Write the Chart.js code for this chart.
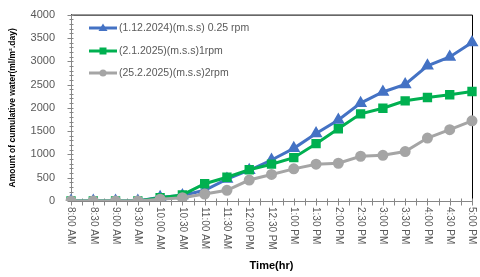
<!DOCTYPE html>
<html>
<head>
<meta charset="utf-8">
<script src="https://cdn.jsdelivr.net/npm/chart.js@4.4.1/dist/chart.umd.min.js"></script>
<style>
  html, body { margin: 0; padding: 0; background: #fff; }
  #wrap { width: 480px; height: 277px; }
</style>
</head>
<body>
<div id="wrap"><canvas id="chart" width="480" height="277"></canvas></div>
<script>
// データ
const timeLabels = ['8:00 AM', '8:30 AM', '9:00 AM', '9:30 AM', '10:00 AM', '10:30 AM', '11:00 AM', '11:30 AM',
  '12:00 PM', '12:30 PM', '1:00 PM', '1:30 PM', '2:00 PM', '2:30 PM', '3:00 PM', '3:30 PM', '4:00 PM', '4:30 PM', '5:00 PM'];
const seriesNames = ['(1.12.2024)(m.s.s) 0.25 rpm', '(2.1.2025)(m.s.s)1rpm', '(25.2.2025)(m.s.s)2rpm'];
const blueVals = [0, 0, 0, 0, 80, 120, 230, 470, 660, 880, 1130, 1450, 1740, 2100, 2340, 2500, 2900, 3090, 3400];
const greenVals = [0, 0, 0, 0, 70, 130, 370, 510, 670, 790, 930, 1230, 1550, 1870, 1990, 2150, 2220, 2280, 2350];
const grayVals = [0, 0, 0, 0, 40, 70, 150, 230, 450, 570, 690, 790, 810, 960, 980, 1060, 1350, 1530, 1720];
const yMin = 0, yMax = 4000, yStep = 500;

const axisGray = '#868686';
const textGray = '#595959';

// 枠線と目盛り
const framePlugin = {
  id: 'frame',
  beforeDatasetsDraw(chart) {
    const { ctx, chartArea: a, scales } = chart;
    ctx.save();
    ctx.strokeStyle = '#000';
    ctx.lineWidth = 1;
    ctx.beginPath();
    ctx.moveTo(a.left, a.top + 0.5);
    ctx.lineTo(a.right + 0.5, a.top + 0.5);
    ctx.lineTo(a.right + 0.5, a.bottom);
    ctx.stroke();

    ctx.strokeStyle = axisGray;
    // y 補助目盛り
    const ax = Math.round(a.left) + 0.5;
    for (let v = yMin; v <= yMax; v += 100) {
      const y = Math.round(scales.y.getPixelForValue(v)) + 0.5;
      const len = v % yStep === 0 ? 4 : 2;
      ctx.beginPath();
      ctx.moveTo(ax - len, y);
      ctx.lineTo(ax + 2, y);
      ctx.stroke();
    }
    // x 目盛り
    const by = Math.round(a.bottom) + 0.5;
    for (let i = 0; i < timeLabels.length; i++) {
      const x = Math.round(scales.x.getPixelForValue(i)) + 0.5;
      ctx.beginPath();
      ctx.moveTo(x, by - 3);
      ctx.lineTo(x, by + 4);
      ctx.stroke();
      if (i < timeLabels.length - 1) {
        const xm = Math.round((scales.x.getPixelForValue(i) + scales.x.getPixelForValue(i + 1)) / 2) + 0.5;
        ctx.beginPath();
        ctx.moveTo(xm, by - 3);
        ctx.lineTo(xm, by + 4);
        ctx.stroke();
      }
    }
    ctx.restore();
  },
  afterDraw(chart) {
    const { ctx, chartArea: a, scales } = chart;
    ctx.save();
    // x ラベル（時計回り90度）
    ctx.fillStyle = textGray;
    ctx.font = '10px "Liberation Sans", Arial, sans-serif';
    ctx.textAlign = 'left';
    ctx.textBaseline = 'middle';
    timeLabels.forEach((lab, i) => {
      const x = scales.x.getPixelForValue(i);
      ctx.save();
      ctx.translate(x, a.bottom + 6);
      ctx.rotate(Math.PI / 2);
      ctx.fillText(lab, 0, 0);
      ctx.restore();
    });

    // 凡例
    const ds = chart.data.datasets;
    const legendY = [28, 51, 73];
    ds.forEach((d, i) => {
      const y = legendY[i];
      ctx.strokeStyle = d.borderColor;
      ctx.lineWidth = 3;
      ctx.beginPath();
      ctx.moveTo(89, y);
      ctx.lineTo(117, y);
      ctx.stroke();
      ctx.fillStyle = d.borderColor;
      ctx.beginPath();
      if (d.pointStyle === 'triangle') {
        ctx.moveTo(103, y - 4.5);
        ctx.lineTo(107.5, y + 3);
        ctx.lineTo(98.5, y + 3);
        ctx.closePath();
      } else if (d.pointStyle === 'rect') {
        ctx.rect(99.5, y - 3.5, 7, 7);
      } else {
        ctx.arc(103, y, 3.5, 0, Math.PI * 2);
      }
      ctx.fill();
      ctx.fillStyle = textGray;
      ctx.font = '10.5px "Liberation Sans", Arial, sans-serif';
      ctx.textAlign = 'left';
      ctx.textBaseline = 'middle';
      ctx.fillText(d.label, 119, y);
    });
    ctx.restore();
  }
};

const ctx = document.getElementById('chart').getContext('2d');
new Chart(ctx, {
  type: 'line',
  data: {
    labels: timeLabels,
    datasets: [
      {
        label: seriesNames[0],
        data: blueVals,
        borderColor: '#4472C4',
        backgroundColor: '#4472C4',
        borderWidth: 3,
        pointStyle: 'triangle',
        pointRadius: 4.5,
        order: 3
      },
      {
        label: seriesNames[1],
        data: greenVals,
        borderColor: '#00B050',
        backgroundColor: '#00B050',
        borderWidth: 3,
        pointStyle: 'rect',
        pointRadius: 4.5,
        order: 2
      },
      {
        label: seriesNames[2],
        data: grayVals,
        borderColor: '#A5A5A5',
        backgroundColor: '#A5A5A5',
        borderWidth: 3,
        pointStyle: 'circle',
        pointRadius: 4,
        order: 1
      }
    ]
  },
  options: {
    responsive: false,
    animation: false,
    layout: { padding: { left: 0, top: 7, right: 8, bottom: 0 } },
    plugins: {
      legend: { display: false },
      tooltip: { enabled: false }
    },
    scales: {
      x: {
        type: 'category',
        offset: false,
        grid: { display: false },
        border: { color: axisGray, width: 1 },
        ticks: { display: false },
        title: {
          display: true,
          text: 'Time(hr)',
          color: '#000',
          font: { family: '"Liberation Sans", Arial, sans-serif', size: 11, weight: 'bold' },
          padding: { top: 0, bottom: 4 }
        },
        afterFit(scale) { scale.height = 76; }
      },
      y: {
        min: yMin,
        max: yMax,
        ticks: {
          stepSize: yStep,
          color: textGray,
          padding: 8,
          font: { family: '"Liberation Sans", Arial, sans-serif', size: 11 },
          callback: (v) => String(v)
        },
        grid: { display: false },
        border: { color: axisGray, width: 1 },
        title: {
          display: true,
          text: 'Amount of cumulative water(ml/m\u00B2.day)',
          color: '#000',
          font: { family: '"Liberation Sans", Arial, sans-serif', size: 8.5, weight: 'bold' },
          padding: { top: 8, bottom: 0 }
        },
        afterFit(scale) { scale.width = 71; }
      }
    }
  },
  plugins: [framePlugin]
});
</script>
</body>
</html>
